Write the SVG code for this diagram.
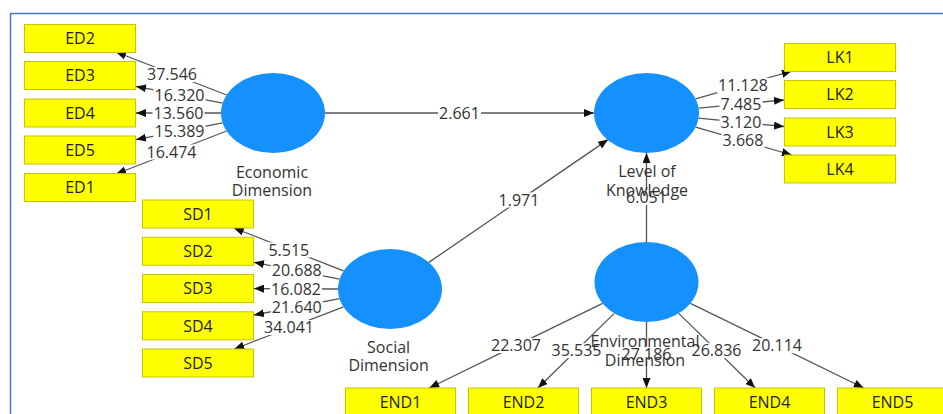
<svg xmlns="http://www.w3.org/2000/svg" width="943" height="414" viewBox="0 0 943 414">
<style>
.frame{fill:none;stroke:#4a78cc;stroke-width:1.5}
.c{stroke:#555;stroke-width:1.3;fill:none;marker-end:url(#ah)}
.lb{fill:#fff}
.el{font-family:"Open Sans","Noto Sans",sans-serif;font-size:16px;fill:#333;text-anchor:middle}
.lv{fill:#1591ff}
.bx{fill:#ffff00;stroke:#c9c400;stroke-width:1}
.bt{font-family:"Open Sans","Noto Sans",sans-serif;font-size:16px;fill:#222;text-anchor:middle}
.nl{font-family:"Open Sans","Noto Sans",sans-serif;font-size:16px;fill:#333;text-anchor:middle}
</style>
<defs>
<marker id="ah" markerUnits="userSpaceOnUse" markerWidth="10" markerHeight="8" viewBox="0 0 10 8" refX="10" refY="4" orient="auto">
<path d="M0,0 L10,4 L0,8 z" fill="#111"/>
</marker>
</defs>
<rect width="943" height="414" fill="#fff"/>
<rect class="frame" x="10.5" y="13.5" width="940" height="410"/>
<g id="connectors">
<line class="c" x1="226.6" y1="95" x2="116" y2="52"/>
<line class="c" x1="222.6" y1="103.2" x2="136" y2="86.4"/>
<line class="c" x1="221" y1="113" x2="136" y2="113"/>
<line class="c" x1="222.6" y1="122.8" x2="136" y2="139.6"/>
<line class="c" x1="226.6" y1="131" x2="116" y2="174"/>
<line class="c" x1="695.7" y1="98.9" x2="791.8" y2="71"/>
<line class="c" x1="698.6" y1="108.1" x2="784" y2="99.9"/>
<line class="c" x1="698.6" y1="118.1" x2="784" y2="126.5"/>
<line class="c" x1="695.7" y1="127.1" x2="791.8" y2="155"/>
<line class="c" x1="325" y1="113" x2="594" y2="113"/>
<line class="c" x1="428.8" y1="262.4" x2="608" y2="139.6"/>
<line class="c" x1="646.5" y1="242" x2="646.5" y2="153"/>
<line class="c" x1="343.6" y1="270.9" x2="233.8" y2="228"/>
<line class="c" x1="339.6" y1="279.1" x2="254" y2="262.3"/>
<line class="c" x1="338" y1="289" x2="254" y2="288.6"/>
<line class="c" x1="339.6" y1="298.6" x2="254" y2="315"/>
<line class="c" x1="343.5" y1="306.9" x2="234.3" y2="349"/>
<line class="c" x1="602.6" y1="303.4" x2="429.2" y2="388"/>
<line class="c" x1="614.3" y1="313.4" x2="537.9" y2="388"/>
<line class="c" x1="646.5" y1="322" x2="646.5" y2="388"/>
<line class="c" x1="678.7" y1="313.4" x2="755.2" y2="388"/>
<line class="c" x1="690.4" y1="303.4" x2="863.8" y2="388"/>
<g id="edge-labels">
<rect class="lb" x="146" y="67" width="52" height="15"/><text class="el" x="172" y="80.2">37.546</text>
<rect class="lb" x="153.5" y="87.5" width="52" height="15"/><text class="el" x="179.5" y="100.7">16.320</text>
<rect class="lb" x="152.5" y="105.5" width="52" height="15"/><text class="el" x="178.5" y="118.7">13.560</text>
<rect class="lb" x="153.5" y="124" width="52" height="15"/><text class="el" x="179.5" y="137.2">15.389</text>
<rect class="lb" x="145.5" y="144.5" width="52" height="15"/><text class="el" x="171.5" y="157.7">16.474</text>
<rect class="lb" x="717" y="78" width="52" height="15"/><text class="el" x="743" y="91.2">11.128</text>
<rect class="lb" x="719.5" y="96.5" width="43" height="15"/><text class="el" x="741" y="109.7">7.485</text>
<rect class="lb" x="719.5" y="114.5" width="43" height="15"/><text class="el" x="741" y="127.7">3.120</text>
<rect class="lb" x="721.5" y="133" width="43" height="15"/><text class="el" x="743" y="146.2">3.668</text>
<rect class="lb" x="438" y="105.5" width="43" height="15"/><text class="el" x="459.5" y="118.7">2.661</text>
<rect class="lb" x="497.5" y="192.5" width="43" height="15"/><text class="el" x="519" y="205.7">1.971</text>
<rect class="lb" x="625" y="190" width="43" height="15"/><text class="el" x="646.5" y="203.2">6.051</text>
<rect class="lb" x="267.3" y="242.5" width="43" height="15"/><text class="el" x="288.8" y="255.7">5.515</text>
<rect class="lb" x="270.8" y="263.2" width="52" height="15"/><text class="el" x="296.8" y="276.4">20.688</text>
<rect class="lb" x="270" y="281.3" width="52" height="15"/><text class="el" x="296" y="294.5">16.082</text>
<rect class="lb" x="270.8" y="299.3" width="52" height="15"/><text class="el" x="296.8" y="312.5">21.640</text>
<rect class="lb" x="263" y="320" width="52" height="15"/><text class="el" x="289" y="333.2">34.041</text>
<rect class="lb" x="490" y="338" width="52" height="15"/><text class="el" x="516" y="351.2">22.307</text>
<rect class="lb" x="550.5" y="343.2" width="52" height="15"/><text class="el" x="576.5" y="356.4">35.535</text>
<rect class="lb" x="620.5" y="346.5" width="52" height="15"/><text class="el" x="646.5" y="359.7">27.186</text>
<rect class="lb" x="690.5" y="343.2" width="52" height="15"/><text class="el" x="716.5" y="356.4">26.836</text>
<rect class="lb" x="751" y="338.2" width="52" height="15"/><text class="el" x="777" y="351.4">20.114</text>
</g>
</g>
<g id="economic-dimension">
<ellipse class="lv" cx="273" cy="113" rx="52" ry="40"/>
<text class="nl" x="272" y="177.7">Economic</text>
<text class="nl" x="272" y="195.7">Dimension</text>
</g>
<g id="level-of-knowledge">
<ellipse class="lv" cx="646.5" cy="113" rx="52.5" ry="40"/>
<text class="nl" x="647" y="177.4">Level of</text>
<text class="nl" x="647" y="195.7">Knowledge</text>
</g>
<g id="social-dimension">
<ellipse class="lv" cx="390" cy="289" rx="52" ry="40"/>
<text class="nl" x="388.6" y="353.2">Social</text>
<text class="nl" x="388.6" y="371.4">Dimension</text>
</g>
<g id="environmental-dimension">
<ellipse class="lv" cx="646.5" cy="282" rx="52" ry="40"/>
<text class="nl" x="645" y="347.4">Environmental</text>
<text class="nl" x="645" y="365.7">Dimension</text>
</g>
<g id="ED2"><rect class="bx" x="24.5" y="24.5" width="111" height="28"/><text class="bt" x="80" y="44.2">ED2</text></g>
<g id="ED3"><rect class="bx" x="24.5" y="61.5" width="111" height="28"/><text class="bt" x="80" y="81.2">ED3</text></g>
<g id="ED4"><rect class="bx" x="24.5" y="99" width="111" height="28"/><text class="bt" x="80" y="118.7">ED4</text></g>
<g id="ED5"><rect class="bx" x="24.5" y="136" width="111" height="28"/><text class="bt" x="80" y="155.7">ED5</text></g>
<g id="ED1"><rect class="bx" x="24.5" y="173.5" width="111" height="28"/><text class="bt" x="80" y="193.2">ED1</text></g>
<g id="LK1"><rect class="bx" x="784.5" y="43.5" width="111" height="28"/><text class="bt" x="840" y="63.2">LK1</text></g>
<g id="LK2"><rect class="bx" x="784.5" y="80.5" width="111" height="28"/><text class="bt" x="840" y="100.2">LK2</text></g>
<g id="LK3"><rect class="bx" x="784.5" y="118" width="111" height="28"/><text class="bt" x="840" y="137.7">LK3</text></g>
<g id="LK4"><rect class="bx" x="784.5" y="155" width="111" height="28"/><text class="bt" x="840" y="174.7">LK4</text></g>
<g id="SD1"><rect class="bx" x="142.5" y="200" width="111" height="28"/><text class="bt" x="198" y="219.7">SD1</text></g>
<g id="SD2"><rect class="bx" x="142.5" y="237.3" width="111" height="28"/><text class="bt" x="198" y="257">SD2</text></g>
<g id="SD3"><rect class="bx" x="142.5" y="274.5" width="111" height="28"/><text class="bt" x="198" y="294.2">SD3</text></g>
<g id="SD4"><rect class="bx" x="142.5" y="311.8" width="111" height="28"/><text class="bt" x="198" y="331.5">SD4</text></g>
<g id="SD5"><rect class="bx" x="142.5" y="349" width="111" height="28"/><text class="bt" x="198" y="368.7">SD5</text></g>
<g id="END1"><rect class="bx" x="345.5" y="388" width="110" height="28"/><text class="bt" x="400.5" y="407.7">END1</text></g>
<g id="END2"><rect class="bx" x="468.5" y="388" width="110" height="28"/><text class="bt" x="523.5" y="407.7">END2</text></g>
<g id="END3"><rect class="bx" x="591.5" y="388" width="110" height="28"/><text class="bt" x="646.5" y="407.7">END3</text></g>
<g id="END4"><rect class="bx" x="714.5" y="388" width="110" height="28"/><text class="bt" x="769.5" y="407.7">END4</text></g>
<g id="END5"><rect class="bx" x="837.5" y="388" width="110" height="28"/><text class="bt" x="892.5" y="407.7">END5</text></g>
</svg>
